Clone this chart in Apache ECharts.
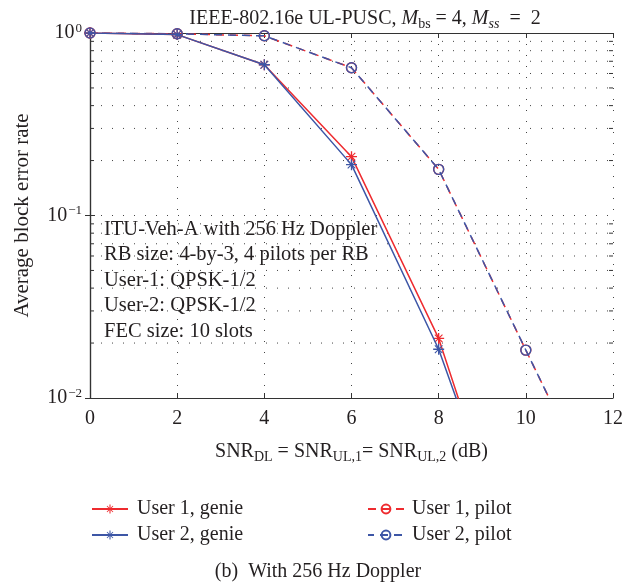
<!DOCTYPE html>
<html lang="en">
<head>
<meta charset="UTF-8">
<title>Average block error rate, 256 Hz Doppler</title>
<script src="https://cdn.jsdelivr.net/npm/echarts@6/dist/echarts.min.js"></script>
<style>
  html, body { margin: 0; padding: 0; background: #fff; }
  #chart { width: 626px; height: 585px; }
</style>
</head>
<body>
<div id="chart"></div>
<script>
// SNR points (dB)
var snrGenie = [0, 2, 4, 6, 8, 10];
var snrPilot = [0, 2, 4, 6, 8, 10, 12];
// block error rates (last points fall below the axis)
var user1Genie = [1, 0.98, 0.67, 0.21, 0.0212, 0.00075];
var user2Genie = [1, 0.98, 0.67, 0.19, 0.0185, 0.00085];
var user1Pilot = [1, 0.99, 0.965, 0.645, 0.179, 0.0183, 0.0019];
var user2Pilot = [1, 0.99, 0.965, 0.645, 0.179, 0.0183, 0.0019];
// axis ticks
var xTicks = [0, 2, 4, 6, 8, 10, 12];
var yTicks = [0.01, 0.1, 1];
var yMinor = [0.02, 0.03, 0.04, 0.05, 0.06, 0.07, 0.08, 0.09,
              0.2, 0.3, 0.4, 0.5, 0.6, 0.7, 0.8, 0.9];
var notes = ['ITU-Veh-A with 256 Hz Doppler', 'RB size: 4-by-3, 4 pilots per RB',
             'User-1: QPSK-1/2', 'User-2: QPSK-1/2', 'FEC size: 10 slots'];

var RED = '#ee2b2f', BLUE = '#3d56a6', INK = '#231f20';
var SERIF = '"Liberation Serif", "DejaVu Serif", serif';
var FS = 20;
var STAR = 'path://M4.4,0H5.6V10H4.4Z M0,4.4H10V5.6H0Z M1.2,1.9L1.9,1.2L8.8,8.1L8.1,8.8Z M8.1,1.2L8.8,1.9L1.9,8.8L1.2,8.1Z';

function pairs(xs, ys) {
    var out = [];
    for (var i = 0; i < xs.length; i++) out.push([xs[i], ys[i]]);
    return out;
}
function expLabel(v) {
    var e = Math.round(Math.log10(v));
    return '{b|10}{s|' + (e < 0 ? '\u2212' + (-e) : e) + '}';
}
var supRich = {
    b: { fontFamily: SERIF, fontSize: FS, color: INK, lineHeight: 22 },
    s: { fontFamily: SERIF, fontSize: 13, color: INK, verticalAlign: 'top', lineHeight: 22, padding: [0, 0, 8, 1] }
};
var subRich = {
    t: { fontFamily: SERIF, fontSize: FS, color: INK, lineHeight: 24 },
    i: { fontFamily: SERIF, fontSize: FS, color: INK, fontStyle: 'italic', lineHeight: 24 },
    sb: { fontFamily: SERIF, fontSize: 14, color: INK, verticalAlign: 'bottom', lineHeight: 24, padding: [7, 0, 0, 0] },
    si: { fontFamily: SERIF, fontSize: 14, color: INK, fontStyle: 'italic', verticalAlign: 'bottom', lineHeight: 24, padding: [7, 0, 0, 0] }
};
var dotted = { color: '#444', width: 1, type: [1, 10] };
var frame = { color: '#333', width: 1.2 };

var chart = echarts.init(document.getElementById('chart'));

var option = {
    backgroundColor: '#fff',
    animation: false,
    title: [{
        text: '{t|IEEE-802.16e UL-PUSC, }{i|M}{sb|bs}{t| = 4, }{i|M}{si|ss}{t|  =  2}',
        left: 360, top: 2, textAlign: 'center',
        textStyle: { fontWeight: 'normal', rich: subRich }
    }, {
        text: '(b)  With 256 Hz Doppler',
        left: 313, top: 557, textAlign: 'center',
        textStyle: { fontFamily: SERIF, fontSize: FS, fontWeight: 'normal', color: INK }
    }],
    legend: [{
        data: ['User 1, genie', 'User 2, genie'],
        orient: 'vertical', left: 86, top: 494, itemGap: 6,
        itemWidth: 36, itemHeight: 11,
        textStyle: { fontFamily: SERIF, fontSize: FS, color: INK, padding: [0, 0, 0, 4] }
    }, {
        data: ['User 1, pilot', 'User 2, pilot'],
        orient: 'vertical', left: 362, top: 494, itemGap: 6,
        itemWidth: 36, itemHeight: 11,
        textStyle: { fontFamily: SERIF, fontSize: FS, color: INK, padding: [0, 0, 0, 3] }
    }],
    grid: { left: 90, right: 12, top: 33, bottom: 187 },
    xAxis: [{
        type: 'value', min: xTicks[0], max: xTicks[xTicks.length - 1], interval: 2,
        axisLine: { lineStyle: frame },
        axisTick: { inside: true, length: 5, lineStyle: { color: '#333' } },
        axisLabel: { fontFamily: SERIF, fontSize: FS, color: INK, margin: 11 },
        splitLine: { show: true, lineStyle: dotted },
        name: '{t|SNR}{sb|DL}{t| = SNR}{sb|UL,1}{t|= SNR}{sb|UL,2}{t| (dB)}',
        nameLocation: 'middle', nameGap: 42,
        nameTextStyle: { rich: subRich }
    }, {
        type: 'value', position: 'top', min: xTicks[0], max: xTicks[xTicks.length - 1], interval: 2,
        axisLine: { show: true, lineStyle: frame },
        axisTick: { inside: true, length: 5, lineStyle: { color: '#333' } },
        axisLabel: { show: false }, splitLine: { show: false }
    }],
    yAxis: [{
        type: 'log', logBase: 10, min: yTicks[0], max: yTicks[yTicks.length - 1], interval: 1,
        axisLine: { show: true, lineStyle: frame },
        axisTick: { inside: true, length: 5, lineStyle: { color: '#333' } },
        axisLabel: { formatter: expLabel, rich: supRich, margin: 8 },
        splitLine: { show: true, lineStyle: dotted },
        name: 'Average block error rate', nameLocation: 'middle', nameGap: 57,
        nameTextStyle: { fontFamily: SERIF, fontSize: 21, color: INK }
    }, {
        type: 'log', logBase: 10, position: 'right', min: yTicks[0], max: yTicks[yTicks.length - 1], interval: 1,
        axisLine: { show: true, lineStyle: frame },
        axisTick: { inside: true, length: 5, lineStyle: { color: '#333' } },
        axisLabel: { show: false }, splitLine: { show: false }
    }],
    graphic: [{
        type: 'text', left: 104, top: 217, silent: true,
        style: { text: notes.join('\n'), font: '20.5px ' + SERIF, fill: INK, lineHeight: 25.4 }
    }],
    series: [{
        // minor log grid lines + ticks at 2..9 of each decade
        type: 'custom', name: 'minor', silent: true, z: 1,
        data: yMinor.map(function (v) { return [0, v]; }),
        renderItem: function (params, api) {
            var cs = params.coordSys;
            var y = api.coord([0, api.value(1)])[1];
            return {
                type: 'group',
                children: [
                    { type: 'line', shape: { x1: cs.x, y1: y, x2: cs.x + cs.width, y2: y }, style: { stroke: '#444', lineWidth: 1, lineDash: [1, 10] } },
                    { type: 'line', shape: { x1: cs.x, y1: y, x2: cs.x + 4, y2: y }, style: { stroke: '#333', lineWidth: 1 } },
                    { type: 'line', shape: { x1: cs.x + cs.width - 4, y1: y, x2: cs.x + cs.width, y2: y }, style: { stroke: '#333', lineWidth: 1 } }
                ]
            };
        }
    }, {
        name: 'User 1, pilot', type: 'line', z: 3,
        data: pairs(snrPilot, user1Pilot),
        symbol: 'circle', symbolSize: 10,
        lineStyle: { color: RED, width: 1.5, type: [8, 6] },
        itemStyle: { color: 'rgba(0,0,0,0)', borderColor: RED, borderWidth: 1.4 }
    }, {
        name: 'User 2, pilot', type: 'line', z: 4,
        data: pairs(snrPilot, user2Pilot),
        symbol: 'circle', symbolSize: 10,
        lineStyle: { color: BLUE, width: 1.5, type: [8, 6], dashOffset: 2 },
        itemStyle: { color: 'rgba(0,0,0,0)', borderColor: BLUE, borderWidth: 1.4 }
    }, {
        name: 'User 1, genie', type: 'line', z: 5,
        data: pairs(snrGenie, user1Genie),
        symbol: STAR, symbolSize: 11,
        lineStyle: { color: RED, width: 1.5 },
        itemStyle: { color: RED }
    }, {
        name: 'User 2, genie', type: 'line', z: 6,
        data: pairs(snrGenie, user2Genie),
        symbol: STAR, symbolSize: 11,
        lineStyle: { color: BLUE, width: 1.5 },
        itemStyle: { color: BLUE }
    }]
};
chart.setOption(option);
</script>
</body>
</html>
